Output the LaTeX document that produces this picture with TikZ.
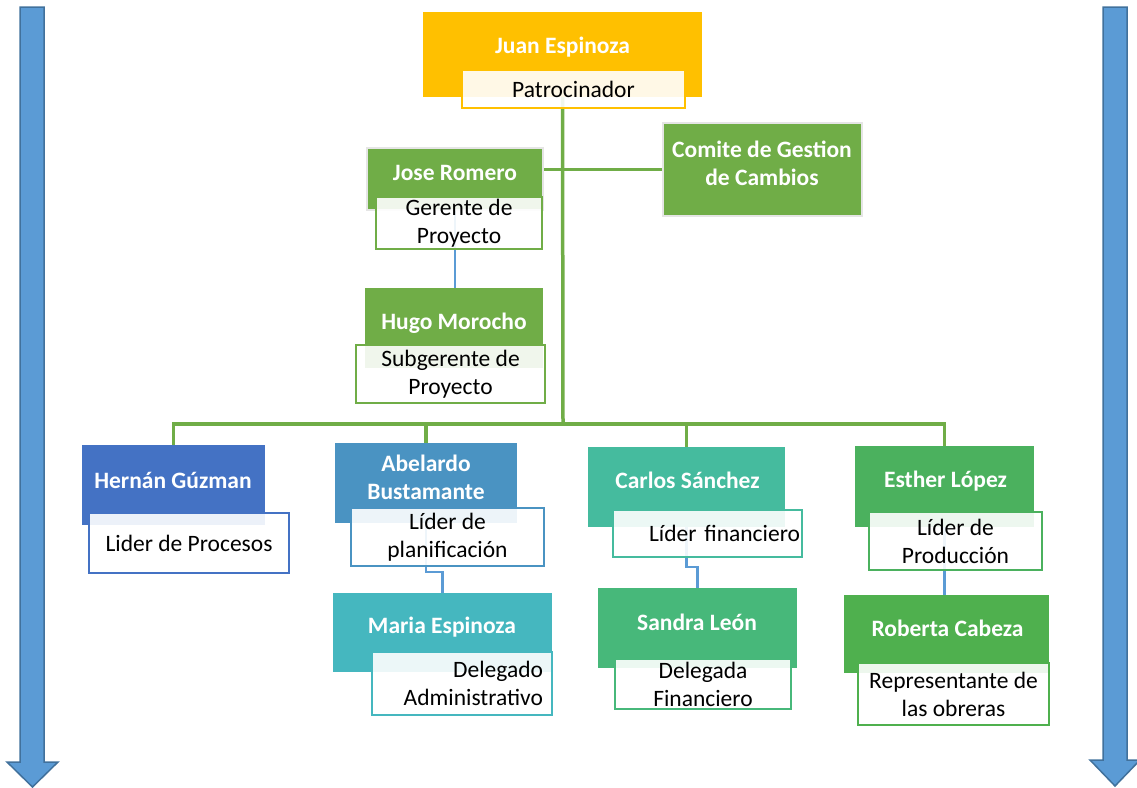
\documentclass[tikz,border=0pt]{standalone}
\usepackage{fontspec}
\setmainfont{Carlito}
\pgfdeclarelayer{bg}
\pgfsetlayers{bg,main}
\definecolor{cJuan}{HTML}{FFC000}
\definecolor{cGreen}{HTML}{70AD47}
\definecolor{cHernan}{HTML}{4472C4}
\definecolor{cAbelardo}{HTML}{4A93C2}
\definecolor{cMaria}{HTML}{45B7BF}
\definecolor{cCarlos}{HTML}{45BB9E}
\definecolor{cSandra}{HTML}{47B87A}
\definecolor{cEsther}{HTML}{4BB15E}
\definecolor{cRoberta}{HTML}{4FB04E}
\definecolor{cLink}{HTML}{5B9BD5}
\definecolor{cArrow}{HTML}{5B9BD5}
\definecolor{cArrowEdge}{HTML}{41719C}
\newcommand{\orgfont}{\fontsize{23.5}{28}\selectfont}

\begin{document}
\begin{tikzpicture}[x=1pt, y=-1pt,
    personbox/.style={fill=#1, inner sep=0pt},
    nametext/.style={text=white, font=\orgfont\bfseries, align=center},
    rolebox/.style={draw=#1, fill=white, fill opacity=0.9, text opacity=1,
      line width=1.5pt, align=center, inner sep=0pt, font=\orgfont},
    greenline/.style={draw=cGreen, line width=3.5pt},
    blueline/.style={draw=cLink, line width=2.5pt},
    bigarrow/.style={fill=cArrow, draw=cArrowEdge, line width=1.5pt}]

    \useasboundingbox (0,0) rectangle (1137,787);

    % side arrows
    \filldraw[bigarrow] (20,7) -- (44,7) -- (44,762) -- (58,762) -- (32.5,787) -- (7,762) -- (20,762) -- cycle;
    \filldraw[bigarrow] (1103,7) -- (1127,7) -- (1127,760) -- (1140,760) -- (1115,786) -- (1090,760) -- (1103,760) -- cycle;

    % top
    \node[personbox=cJuan, minimum width=279, minimum height=85] (juan) at (562.5,54.5) {};
    \node[nametext] (juanT) at (562.5,47.5) {Juan Espinoza};
    \node[rolebox=cJuan, minimum width=223, minimum height=38] (juanR) at (573.5,89) {Patrocinador};

    \node[personbox=cGreen, draw=black!10, line width=1.5pt, minimum width=176, minimum height=62] (jose) at (455,179) {};
    \node[nametext] (joseT) at (455,173) {Jose Romero};
    \node[rolebox=cGreen, minimum width=166, minimum height=52] (joseR) at (459,223) {Gerente de\\Proyecto};

    \node[personbox=cGreen, draw=black!10, line width=1.5pt, minimum width=199, minimum height=93] (comite) at (762.5,169.5) {};
    \node[nametext] (comiteT) at (762,163.5) {Comite de Gestion\\de Cambios};

    \node[personbox=cGreen, minimum width=178, minimum height=80] (hugo) at (454,328) {};
    \node[nametext] (hugoT) at (454,323) {Hugo Morocho};
    \node[rolebox=cGreen, minimum width=189, minimum height=58] (hugoR) at (450.5,374) {Subgerente de\\Proyecto};

    % second row
    \node[personbox=cHernan, minimum width=183, minimum height=80] (hernan) at (173.5,485) {};
    \node[nametext] (hernanT) at (173,480) {Hernán Gúzman};
    \node[rolebox=cHernan, minimum width=200, minimum height=60] (hernanR) at (189,543) {Lider de Procesos};

    \node[personbox=cAbelardo, minimum width=182, minimum height=80] (abelardo) at (426,483) {};
    \node[nametext] (abelardoT) at (426,477) {Abelardo\\Bustamante};
    \node[rolebox=cAbelardo, minimum width=193, minimum height=58] (abelardoR) at (447.5,537) {Líder de\\planificación};

    \node[personbox=cCarlos, minimum width=197, minimum height=80] (carlos) at (686.5,487) {};
    \node[nametext] (carlosT) at (687.5,480) {Carlos Sánchez};
    \node[rolebox=cCarlos, minimum width=189, minimum height=47, align=right, text width=185] (carlosR) at (707.5,533.5) {\mbox{Líder financiero}};

    \node[personbox=cEsther, minimum width=179, minimum height=81] (esther) at (944.5,486.5) {};
    \node[nametext] (estherT) at (945.5,481) {Esther López};
    \node[rolebox=cEsther, minimum width=173, minimum height=58] (estherR) at (955.5,541) {Líder de\\Producción};

    % third row
    \node[personbox=cMaria, minimum width=219, minimum height=79] (maria) at (442.5,632.5) {};
    \node[nametext] (mariaT) at (442,627) {Maria Espinoza};
    \node[rolebox=cMaria, minimum width=180, minimum height=63, align=right, text width=162] (mariaR) at (462,683.5) {Delegado\\Administrativo};

    \node[personbox=cSandra, minimum width=199, minimum height=80] (sandra) at (697.5,628) {};
    \node[nametext] (sandraT) at (697,622) {Sandra León};
    \node[rolebox=cSandra, minimum width=176, minimum height=50] (sandraR) at (703,684) {Delegada\\Financiero};

    \node[personbox=cRoberta, minimum width=205, minimum height=78] (roberta) at (946.5,634) {};
    \node[nametext] (robertaT) at (947.5,628) {Roberta Cabeza};
    \node[rolebox=cRoberta, minimum width=191, minimum height=62] (robertaR) at (953.5,694) {Representante de\\las obreras};

    \coordinate (bus) at (563,424);

    \begin{pgfonlayer}{bg}
        \draw[greenline] (juan.south) -- (bus);
        \draw[greenline] (comite.west -| jose.east) -- (comite.west);
        \draw[greenline] (hernan.north) -- (hernan.north |- bus) -- (esther.north |- bus) -- (esther.north);
        \draw[greenline] (abelardo.north |- bus) -- (abelardo.north);
        \draw[greenline] (carlos.north |- bus) -- (carlos.north);
        \draw[blueline] (jose.south) -- (jose.south |- hugo.north);
        \draw[blueline] (abelardo.south) -- ++(0,49) -| (maria.north);
        \draw[blueline] (carlos.south) -- ++(0,40) -| (sandra.north);
        \draw[blueline] (esther.south) -- (esther.south |- roberta.north);
    \end{pgfonlayer}

\end{tikzpicture}
\end{document}
